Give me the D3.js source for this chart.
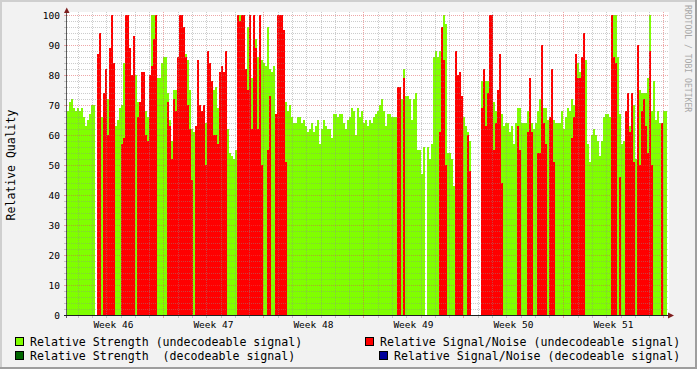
<!DOCTYPE html>
<html>
<head>
<meta charset="utf-8">
<script src="https://cdn.jsdelivr.net/npm/d3@7"></script>
<style>
  body { margin: 0; background: #f2f2f2; }
  svg { display: block; }
  text { font-family: "DejaVu Sans Mono", monospace; }
</style>
</head>
<body>
<svg id="chart"></svg>
<script>
// relative strength (undecodeable), one value per sample
const strength = [
  68,71,72,69,68,69,68,69,66,63,65,67,70,70,0,75,70,66,73,62,72,62,62,63,63,
  65,69,70,84,100,62,62,62,85,80,71,62,62,62,68,66,62,100,100,100,79,79,84,86,86,
  74,65,58,75,75,75,62,62,62,87,85,75,62,61,60,62,62,62,62,64,62,62,75,75,76,
  69,65,62,62,62,62,54,53,52,55,62,100,62,62,62,96,62,79,80,92,86,100,85,84,83,
  96,82,81,83,67,100,88,62,62,71,68,70,66,64,64,66,66,64,65,63,61,62,64,61,63,
  65,57,62,65,63,62,62,59,67,67,66,67,67,64,62,65,66,69,68,60,69,66,68,64,65,
  63,65,64,66,67,68,70,72,68,63,67,67,66,66,66,58,62,72,82,73,73,72,65,72,74,
  55,55,47,56,0,56,52,57,86,88,86,88,88,100,97,54,54,52,43,72,70,62,64,66,63,
  61,58,0,0,0,0,0,78,78,78,78,62,62,71,68,62,62,67,63,64,64,61,63,57,64,
  69,69,64,64,64,68,62,64,62,64,68,72,72,69,69,65,65,62,65,64,64,64,68,62,66,
  69,68,72,70,75,84,81,80,62,85,57,51,60,62,60,58,53,58,66,67,67,66,100,100,100,
  86,67,57,58,62,63,63,70,70,52,60,75,74,74,74,79,100,68,78,65,68,64,62,68,68
];

// relative signal/noise (undecodeable)
const snr = [
  0,0,0,0,0,0,0,0,0,0,0,0,0,0,0,87,94,0,74,82,60,89,100,84,0,
  0,0,57,59,100,100,89,80,93,0,66,71,81,81,60,58,80,83,92,100,0,0,0,0,0,
  71,63,52,72,68,86,100,100,96,86,70,62,45,0,63,85,70,68,70,50,88,84,78,60,60,
  57,81,83,81,88,0,0,0,0,0,100,98,100,100,82,75,100,62,100,89,62,100,50,0,0,
  55,73,0,0,67,100,100,100,95,51,0,0,0,0,0,0,0,0,0,0,0,0,0,0,0,
  0,0,0,0,0,0,0,0,0,0,0,0,0,0,0,0,0,0,0,0,0,0,0,0,0,
  0,0,0,0,0,0,0,0,0,0,0,0,0,0,0,76,76,0,79,0,0,0,0,0,0,
  0,0,0,0,0,0,0,0,0,0,0,61,96,85,50,0,0,0,0,88,80,81,73,0,0,
  60,48,0,0,0,0,0,69,82,63,74,100,100,55,64,75,87,44,0,0,0,0,0,0,0,
  63,55,0,0,0,61,79,61,0,0,54,54,90,64,57,0,66,82,51,0,0,0,0,0,0,
  0,0,59,66,87,79,79,86,94,0,0,0,0,0,0,0,0,0,0,0,0,0,100,86,84,
  0,46,0,0,68,74,61,74,51,0,90,50,68,72,63,54,88,50,0,0,0,0,64,0,0
];

const yTicks = [0, 10, 20, 30, 40, 50, 60, 70, 80, 90, 100];

const legendItems = [
  { label: "Relative Strength (undecodeable signal)", color: "#80ff00", bx: 15, tx: 30, row: 0 },
  { label: "Relative Strength  (decodeable signal)", color: "#006600", bx: 15, tx: 30, row: 1 },
  { label: "Relative Signal/Noise (undecodeable signal)", color: "#ff0000", bx: 365, tx: 380, row: 0 },
  { label: "Relative Signal/Noise (decodeable signal)", color: "#000099", bx: 379, tx: 394, row: 1 }
];

const start = Date.UTC(2012, 10, 12, 6);
const span = 42 * 864e5;
const stepMs = span / strength.length;

const W = 697, H = 369;
const svg = d3.select("#chart").attr("width", W).attr("height", H);

// background + 3d frame
svg.append("rect").attr("width", W).attr("height", H).attr("fill", "#f2f2f2");
svg.append("rect").attr("x", 0).attr("y", 0).attr("width", W).attr("height", 2).attr("fill", "#cfcfcf");
svg.append("rect").attr("x", 0).attr("y", 0).attr("width", 2).attr("height", H).attr("fill", "#cfcfcf");
svg.append("rect").attr("x", 0).attr("y", H - 2).attr("width", W).attr("height", 2).attr("fill", "#9e9e9e");
svg.append("rect").attr("x", W - 2).attr("y", 0).attr("width", 2).attr("height", H).attr("fill", "#9e9e9e");

// canvas
svg.append("rect").attr("x", 67).attr("y", 12).attr("width", 602).attr("height", 303).attr("fill", "#fff");

const x = d3.scaleUtc().domain([new Date(start), new Date(start + span)]).range([67, 667]);
const y = d3.scaleLinear().domain([0, 100]).range([315, 15]);

function drawSeries(values, color) {
  svg.append("g").selectAll("rect").data(values).join("rect")
    .attr("x", (d, i) => x(new Date(start + i * stepMs)))
    .attr("width", (d, i) => x(new Date(start + (i + 1) * stepMs)) - x(new Date(start + i * stepMs)))
    .attr("y", d => y(d))
    .attr("height", d => y(0) - y(d))
    .attr("fill", color)
    .attr("shape-rendering", "crispEdges");
}
drawSeries(strength, "#80ff00");
drawSeries(snr, "#ff0000");

// grid
const gridMinor = "rgba(143,143,143,0.45)";
const gridMajor = "rgba(222,79,79,0.5)";
const grid = svg.append("g").attr("shape-rendering", "crispEdges");

const yGrid = d3.range(0, 101, 2);
yGrid.forEach(v => {
  if (v === 0) return;
  const yy = Math.round(y(v)) + 0.5;
  const c = v % 10 === 0 ? gridMajor : gridMinor;
  grid.append("line").attr("x1", 67).attr("x2", 669).attr("y1", yy).attr("y2", yy)
    .attr("stroke", c).attr("stroke-dasharray", "1,1");
  grid.append("line").attr("x1", 64).attr("x2", 67).attr("y1", yy).attr("y2", yy).attr("stroke", c);
});

const days = d3.utcDay.range(new Date(start), new Date(start + span + 864e5 * 0.2));
days.forEach(d => {
  const xx = Math.round(x(d)) + 0.5;
  if (xx > 669) return;
  const major = d.getUTCDay() === 1;
  const c = major ? gridMajor : gridMinor;
  grid.append("line").attr("x1", xx).attr("x2", xx).attr("y1", 12).attr("y2", 315)
    .attr("stroke", c).attr("stroke-dasharray", "1,1");
  grid.append("line").attr("x1", xx).attr("x2", xx).attr("y1", 315).attr("y2", 318).attr("stroke", c);
});

// axes
const axisColor = "#1f1f1f", arrowColor = "#801f1f";
svg.append("line").attr("x1", 66.5).attr("x2", 66.5).attr("y1", 318).attr("y2", 11)
  .attr("stroke", axisColor).attr("stroke-opacity", 0.7);
svg.append("line").attr("x1", 64).attr("x2", 670).attr("y1", 315.5).attr("y2", 315.5)
  .attr("stroke", axisColor);
svg.append("path").attr("d", "M64,13L69.5,13L66.75,7.5Z").attr("fill", arrowColor);
svg.append("path").attr("d", "M668,312.5L668,318.5L674,315.5Z").attr("fill", arrowColor);

// y labels
svg.append("g").selectAll("text").data(yTicks).join("text")
  .attr("x", 60).attr("y", d => y(d) + 3.5)
  .attr("text-anchor", "end").attr("font-size", "9.5px").attr("fill", "#000")
  .text(d => d);

// week labels
const weekFmt = d3.utcFormat("Week %V");
const mondays = d3.utcMonday.range(d3.utcMonday.floor(new Date(start)), new Date(start + span));
svg.append("g").selectAll("text").data(mondays.filter(m => +m + 3.5 * 864e5 < start + span)).join("text")
  .attr("x", d => x(new Date(+d + 3.5 * 864e5)))
  .attr("y", 328)
  .attr("text-anchor", "middle").attr("font-size", "9.5px").attr("fill", "#000")
  .text(d => weekFmt(d));

// vertical title
svg.append("text")
  .attr("transform", "translate(15,165) rotate(-90)")
  .attr("text-anchor", "middle").attr("font-size", "11.5px").attr("fill", "#000")
  .text("Relative Quality");

// watermark
svg.append("text")
  .attr("transform", "translate(684.5,5) rotate(90)")
  .attr("font-size", "8.1px").attr("fill", "#a8a8a8")
  .text("RRDTOOL / TOBI OETIKER");

// legend
const lg = svg.append("g");
legendItems.forEach(it => {
  const by = 337.5 + it.row * 14;
  lg.append("rect").attr("x", it.bx + 0.5).attr("y", by).attr("width", 8).attr("height", 8)
    .attr("fill", it.color).attr("stroke", "#000").attr("stroke-width", 1);
  lg.append("text").attr("x", it.tx).attr("y", 345.5 + it.row * 14)
    .attr("font-size", "11.6px").attr("fill", "#000")
    .style("white-space", "pre")
    .text(it.label);
});
</script>
</body>
</html>
